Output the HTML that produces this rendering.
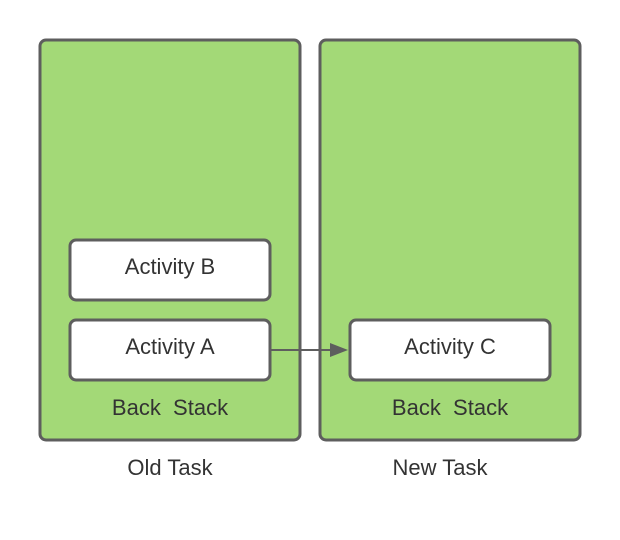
<!DOCTYPE html>
<html><head><style>body{margin:0;background:#fff}svg{display:block}text{white-space:pre}</style></head><body>
<svg width="620" height="540" xmlns="http://www.w3.org/2000/svg" font-family="Liberation Sans, sans-serif" font-size="22" fill="#333">
<rect x="40" y="40" width="260" height="400" rx="6" fill="#a3d977" stroke="#5e5e5e" stroke-width="3"/>
<rect x="320" y="40" width="260" height="400" rx="6" fill="#a3d977" stroke="#5e5e5e" stroke-width="3"/>
<rect x="70" y="240" width="200" height="60" rx="6" fill="#fff" stroke="#5e5e5e" stroke-width="3"/>
<rect x="70" y="320" width="200" height="60" rx="6" fill="#fff" stroke="#5e5e5e" stroke-width="3"/>
<rect x="350" y="320" width="200" height="60" rx="6" fill="#fff" stroke="#5e5e5e" stroke-width="3"/>
<line x1="271" y1="350" x2="332" y2="350" stroke="#5e5e5e" stroke-width="2"/>
<polygon points="330,343 348,350 330,357" fill="#5e5e5e"/>
<g text-anchor="middle" fill="#333" xml:space="preserve">
<text x="170" y="274">Activity B</text>
<text x="170" y="354">Activity A</text>
<text x="450" y="354">Activity C</text>
<text x="170" y="415">Back  Stack</text>
<text x="450" y="415">Back  Stack</text>
<text x="170" y="475">Old Task</text>
<text x="440" y="475">New Task</text>
</g>
</svg>
</body></html>
